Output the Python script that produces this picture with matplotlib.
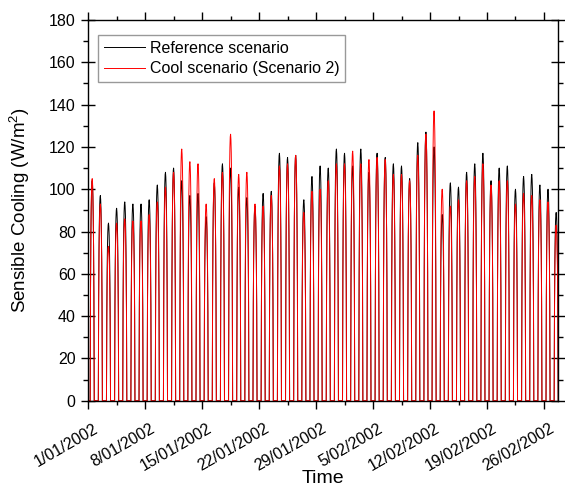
import datetime as dt
import numpy as np
import matplotlib
matplotlib.use('Agg')
import matplotlib.pyplot as plt
from matplotlib.ticker import MultipleLocator, FuncFormatter
from matplotlib.transforms import ScaledTranslation

plt.rcParams['font.family'] = ['Liberation Sans', 'DejaVu Sans']
plt.rcParams['mathtext.fontset'] = 'custom'
plt.rcParams['mathtext.rm'] = 'Liberation Sans'

START = dt.date(2002, 1, 1)

# daily peak of sensible cooling (W/m2), 1 Jan 2002 onward
reference_peaks = [104, 97, 84, 91, 94, 93, 93, 95, 102, 108, 110, 104, 97, 98, 87,
                   103, 112, 110, 101, 96, 92, 98, 99, 117, 115, 116, 95, 106, 111, 110,
                   119, 117, 111, 119, 108, 117, 115, 112, 111, 105, 122, 127, 120, 88,
                   103, 101, 108, 112, 117, 104, 110, 111, 100, 106, 107, 102, 100, 89]
cool_peaks = [105, 93, 73, 84, 86, 85, 85, 88, 94, 101, 108, 119, 113, 112, 93,
              105, 108, 126, 107, 108, 93, 92, 97, 111, 112, 116, 89, 99, 100, 104,
              112, 112, 118, 112, 114, 115, 114, 107, 107, 104, 116, 126, 137, 100,
              92, 95, 104, 106, 112, 102, 104, 104, 93, 98, 97, 95, 94, 83]
# normalised hourly shape of one day (hour 0 .. 23)
day_shape = [0, 0, 0, 0, 0, 0, 0, 0.5, 0.74, 0.87, 0.95, 0.99, 1.0, 0.98,
             0.93, 0.84, 0.7, 0.48, 0, 0, 0, 0, 0, 0]

# time in days since 1 Jan 2002, hourly
hours = np.arange(len(reference_peaks) * len(day_shape))
days = hours / 24.0
reference = np.outer(reference_peaks, day_shape).ravel()
cool = np.outer(cool_peaks, day_shape).ravel()

fig = plt.figure(figsize=(5.65, 4.87), dpi=100)
ax = fig.add_axes([0.156, 0.177, 0.832, 0.782])

ax.plot(days, reference, color='black', lw=0.7, label='Reference scenario')
ax.plot(days, cool, color='red', lw=0.7, label='Cool scenario (Scenario 2)')

ax.set_xlim(0, 57.75)
ax.set_ylim(0, 180)


def date_label(x, pos):
    d = START + dt.timedelta(days=int(round(x)))
    return f'{d.day}/{d.month:02d}/{d.year}'


ax.xaxis.set_major_locator(MultipleLocator(7))
ax.xaxis.set_minor_locator(MultipleLocator(3.5))
ax.xaxis.set_major_formatter(FuncFormatter(date_label))
ax.yaxis.set_major_locator(MultipleLocator(20))
ax.yaxis.set_minor_locator(MultipleLocator(10))

ax.tick_params(which='both', direction='out', top=True, right=True, labelsize=11.5)
ax.tick_params(axis='x', which='major', length=6, width=1, pad=8.5)
ax.tick_params(axis='x', which='minor', length=3, width=1)
ax.tick_params(axis='y', which='major', direction='inout', length=10, width=1, pad=4)
ax.tick_params(axis='y', which='minor', length=3.5, width=1)
ax.tick_params(axis='y', which='both', labelright=False)
shift = ScaledTranslation(5 / 100, 0, fig.dpi_scale_trans)
for lab in ax.get_xticklabels():
    lab.set_rotation(30)
    lab.set_ha('right')
    lab.set_rotation_mode('anchor')
    lab.set_transform(lab.get_transform() + shift)
for s in ax.spines.values():
    s.set_linewidth(1)

ax.set_xlabel('Time', fontsize=14)
ax.xaxis.set_label_coords(0.5, -0.183)
ax.set_ylabel('Sensible Cooling (W/m$^2$)', fontsize=13.5, labelpad=12)
ax.legend(loc='upper left', bbox_to_anchor=(0.0213, 0.9606), borderaxespad=0,
          fontsize=11.5, fancybox=False, edgecolor='0.5', handlelength=2.6,
          handletextpad=0.3, borderpad=0.35, labelspacing=0.35)

plt.savefig('out.png', dpi=100)
